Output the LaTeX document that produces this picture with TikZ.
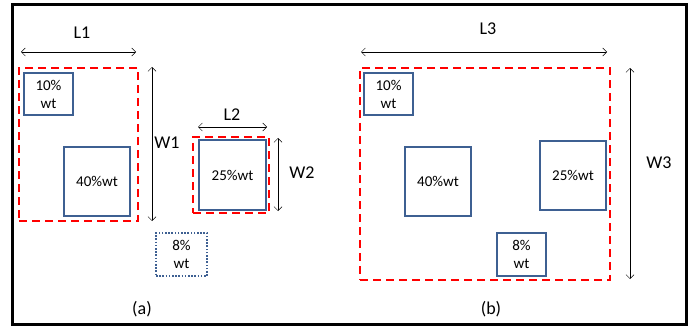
\documentclass[tikz,border=0pt]{standalone}
\usepackage{fontspec}
\setmainfont{Carlito}
\usepackage{xcolor}
\usetikzlibrary{arrows.meta}

\definecolor{partblue}{RGB}{62,96,146}

\tikzset{
  part/.style={draw=partblue,line width=1.6pt,align=center,inner sep=0pt,
    font=\fontsize{15}{18}\selectfont},
  zone/.style={draw=red,line width=2.2pt,dash pattern=on 8pt off 5pt,inner sep=0pt},
  dimlabel/.style={font=\fontsize{18}{20}\selectfont},
  dim/.style={<->,line width=0.5pt},
}

\begin{document}
\begin{tikzpicture}[x=1pt,y=-1pt,>={Straight Barb[length=4pt,width=8pt]}]
      \useasboundingbox (0,0) rectangle (693,326);
      \draw[line width=3pt] (12.5,4.5) rectangle (686.5,324);

      % (a) two zones, 8% wt left out
      \node[zone,minimum width=119,minimum height=153] (zoneA) at (78.5,144.5) {};
      \node[part,minimum width=49,minimum height=42] (tenA) at (48.5,94) {10\%\\wt};
      \node[part,minimum width=66,minimum height=69] (fortyA) at (97,181.5) {40\%wt};
      \node[zone,minimum width=76,minimum height=76] (zoneB) at (231,175) {};
      \node[part,minimum width=67,minimum height=70] (twentyfiveA) at (232.5,175) {25\%wt};
      \node[part,dash pattern=on 1.6pt off 1.6pt,minimum width=51,minimum height=43] (eightA) at (181.5,254.5) {8\%\\wt};

      \coordinate (l1s) at (21,52);   \coordinate (l1e) at (136,52);
      \coordinate (w1s) at (152,67);  \coordinate (w1e) at (152,221);
      \coordinate (l2s) at (198,127); \coordinate (l2e) at (267,127);
      \coordinate (w2s) at (278,138); \coordinate (w2e) at (278,211);
      \draw[dim] (l1s) -- (l1e);
      \draw[dim] (w1s) -- (w1e);
      \draw[dim] (l2s) -- (l2e);
      \draw[dim] (w2s) -- (w2e);
      \node[dimlabel] (L1) at (82,33) {L1};
      \node[dimlabel] (W1) at (167,143) {W1};
      \node[dimlabel] (L2) at (232,115) {L2};
      \node[dimlabel] (W2) at (302,173) {W2};
      \node[dimlabel] (capa) at (142,309) {(a)};

      % (b) one zone holding all four
      \node[zone,minimum width=250,minimum height=212] (zoneC) at (485,174) {};
      \node[part,minimum width=49,minimum height=42] (tenB) at (388.5,94) {10\%\\wt};
      \node[part,minimum width=66,minimum height=69] (fortyB) at (438,181.5) {40\%wt};
      \node[part,minimum width=66,minimum height=69] (twentyfiveB) at (573,175.5) {25\%wt};
      \node[part,minimum width=49,minimum height=43] (eightB) at (521.5,254.5) {8\%\\wt};

      \coordinate (l3s) at (361,52);  \coordinate (l3e) at (607,52);
      \coordinate (w3s) at (630,68);  \coordinate (w3e) at (630,279);
      \draw[dim] (l3s) -- (l3e);
      \draw[dim] (w3s) -- (w3e);
      \node[dimlabel] (L3) at (488,29) {L3};
      \node[dimlabel] (W3) at (659,163) {W3};
      \node[dimlabel] (capb) at (491,309) {(b)};
\end{tikzpicture}
\end{document}
